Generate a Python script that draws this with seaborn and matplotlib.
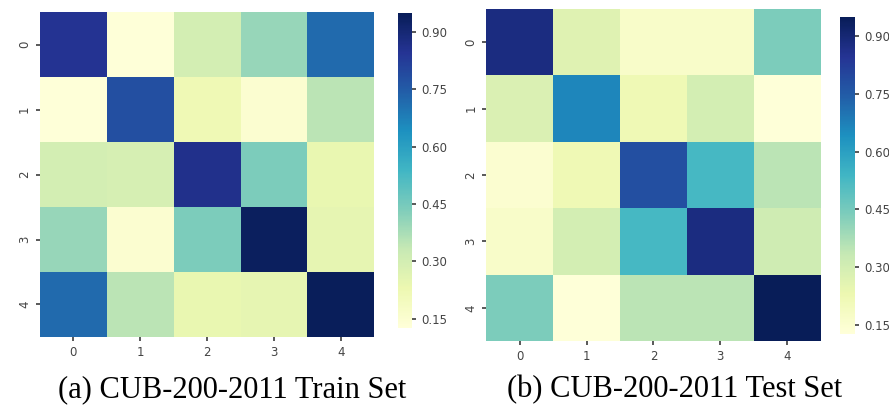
import seaborn as sns
import matplotlib.pyplot as plt
import numpy as np

sns.set_theme(style="white")
plt.rcParams["font.family"] = ["DejaVu Sans"]

labels = [0, 1, 2, 3, 4]

train_vals = [
    [0.85, 0.13, 0.30, 0.40, 0.72],
    [0.13, 0.78, 0.22, 0.15, 0.35],
    [0.30, 0.29, 0.86, 0.44, 0.24],
    [0.40, 0.15, 0.44, 0.94, 0.25],
    [0.72, 0.35, 0.24, 0.25, 0.945],
]
test_vals = [
    [0.88, 0.27, 0.17, 0.17, 0.44],
    [0.28, 0.66, 0.22, 0.30, 0.13],
    [0.15, 0.22, 0.78, 0.53, 0.35],
    [0.17, 0.30, 0.53, 0.88, 0.31],
    [0.44, 0.13, 0.35, 0.35, 0.95],
]
captions = ["(a) CUB-200-2011 Train Set", "(b) CUB-200-2011 Test Set"]

fig = plt.figure(figsize=(8.89, 4.05), dpi=100)

# positions
layout = [
    ([0.045, 0.168, 0.376, 0.802], [0.448, 0.19, 0.016, 0.778], 0.261),
    ([0.547, 0.158, 0.376, 0.820], [0.945, 0.175, 0.017, 0.783], 0.759),
]

for vals, cap, (axpos, cpos, tx) in zip([train_vals, test_vals], captions, layout):
    ax = fig.add_axes(axpos)
    cax = fig.add_axes(cpos)
    sns.heatmap(np.array(vals), ax=ax, cbar_ax=cax, cmap="YlGnBu",
                vmin=0.125, vmax=0.95, xticklabels=labels, yticklabels=labels)
    ax.tick_params(axis="both", labelsize=8.5, colors="#444444", length=3, bottom=True, left=True)
    plt.setp(ax.get_yticklabels(), rotation=90, va="center")
    cax.set_yticks([0.15, 0.30, 0.45, 0.60, 0.75, 0.90])
    cax.set_yticklabels(["0.15", "0.30", "0.45", "0.60", "0.75", "0.90"])
    cax.tick_params(labelsize=8.5, colors="#444444", length=3, right=True)
    for s in cax.spines.values():
        s.set_visible(False)
    fig.text(tx, 0.037, cap, ha="center", va="center", color="black",
             fontsize=22, family=["Liberation Serif", "DejaVu Serif"])

plt.savefig("out.png", dpi=100)
